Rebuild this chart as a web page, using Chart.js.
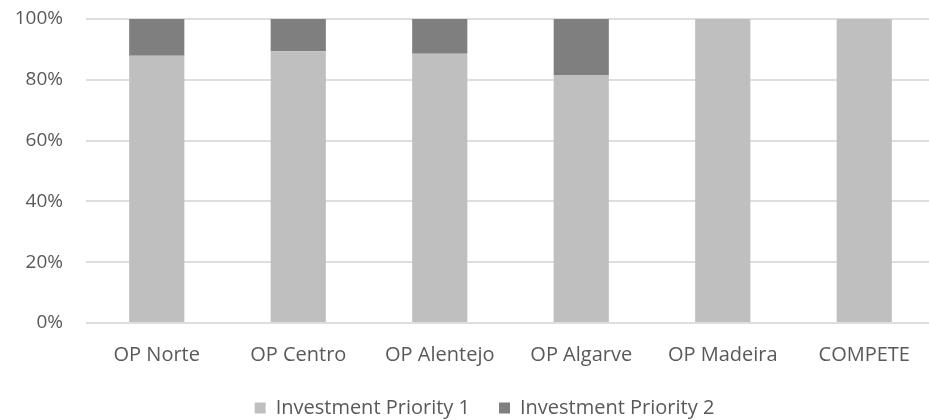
<!DOCTYPE html>
<html>
<head>
<meta charset="utf-8">
<script src="https://cdn.jsdelivr.net/npm/chart.js@4"></script>
<style>
  html, body { margin: 0; padding: 0; background: #ffffff; overflow: hidden; }
  #wrap { position: relative; width: 969px; height: 420px; }
</style>
</head>
<body>
<div id="wrap"><canvas id="c"></canvas></div>
<script>
// Share of each operational programme by investment priority (%)
const categories = ['OP Norte', 'OP Centro', 'OP Alentejo', 'OP Algarve', 'OP Madeira', 'COMPETE'];
const priority1 = [87.9, 89.4, 88.6, 81.6, 100, 100];
const priority2 = [12.1, 10.6, 11.4, 18.4, 0, 0];
const seriesNames = ['Investment Priority 1', 'Investment Priority 2'];
const yTicks = [0, 20, 40, 60, 80, 100];

const textColor = '#595959';
const fontFamily = '"Open Sans", sans-serif';

new Chart(document.getElementById('c'), {
  type: 'bar',
  data: {
    labels: categories,
    datasets: [
      { label: seriesNames[0], data: priority1, backgroundColor: '#bfbfbf', borderWidth: 0 },
      { label: seriesNames[1], data: priority2, backgroundColor: '#7f7f7f', borderWidth: 0 }
    ]
  },
  options: {
    responsive: true,
    maintainAspectRatio: false,
    animation: false,
    layout: { padding: { top: 19, left: 0, right: 0, bottom: 0 } },
    datasets: { bar: { barPercentage: 0.39, categoryPercentage: 1 } },
    plugins: {
      tooltip: { enabled: false },
      legend: {
        position: 'bottom',
        maxHeight: 51,
        labels: {
          color: textColor,
          font: { family: fontFamily, size: 20 },
          boxWidth: 11,
          boxHeight: 11,
          padding: 29
        }
      }
    },
    scales: {
      x: {
        stacked: true,
        grid: { display: false, drawTicks: false },
        border: { display: false },
        afterFit(scale) { scale.height = 46; },
        ticks: { color: textColor, font: { family: fontFamily, size: 20, lineHeight: 1 }, padding: 22, maxRotation: 0 }
      },
      y: {
        stacked: true,
        min: 0,
        max: 100,
        afterBuildTicks(scale) { scale.ticks = yTicks.map(v => ({ value: v })); },
        afterFit(scale) { scale.width = 86; },
        grid: { color: '#dedede', lineWidth: 2, drawTicks: true, tickLength: 20, tickColor: 'rgba(0,0,0,0)' },
        border: { display: false },
        ticks: { color: textColor, font: { family: fontFamily, size: 19 }, padding: 3, callback: v => v + '%' }
      },
      yRight: {
        position: 'right',
        display: true,
        afterFit(scale) { scale.width = 34; },
        grid: { display: false },
        border: { display: false },
        ticks: { display: false }
      }
    }
  }
});
</script>
</body>
</html>
